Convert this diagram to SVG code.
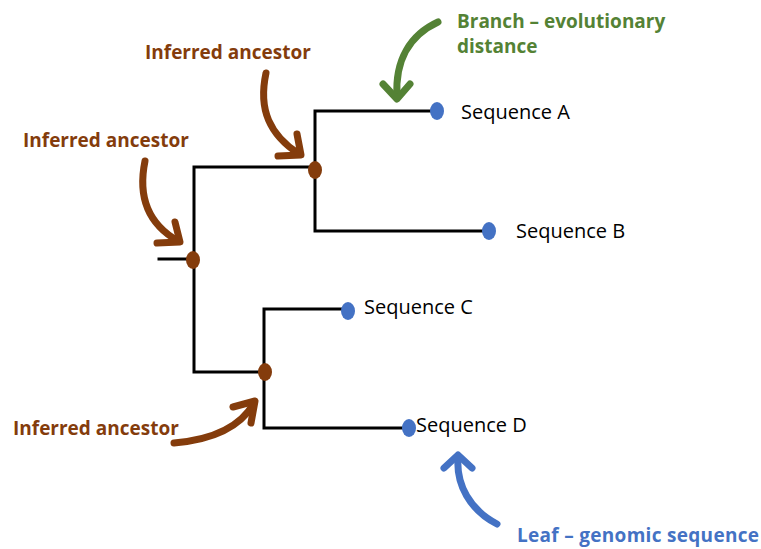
<svg xmlns="http://www.w3.org/2000/svg" width="761" height="549" viewBox="0 0 761 549">
  <defs>
    <style>
      .branch { fill: none; stroke: #000; stroke-width: 3; stroke-linecap: square; stroke-linejoin: miter; }
      .anc { fill: #843C0C; }
      .leaf { fill: #4472C4; }
      .seq { font-family: "Open Sans", "Liberation Sans", sans-serif; font-size: 20px; fill: #000; }
      .note { font-family: "Open Sans", "Liberation Sans", sans-serif; font-size: 19px; font-weight: bold; }
      .brown { fill: #843C0C; }
      .green { fill: #548235; }
      .blue { fill: #4472C4; }
      .arrow { fill: none; stroke-width: 7; stroke-linecap: round; stroke-linejoin: round; }
    </style>
  </defs>
  <rect width="761" height="549" fill="#fff"/>

  <!-- tree branches -->
  <g id="connectors">
    <path class="branch" d="M159 259 H193"/>
    <path class="branch" d="M315 111 H437 M315 111 V231 H489"/>
    <path class="branch" d="M194 167 H315 M194 167 V372 H264"/>
    <path class="branch" d="M264 309 H348 M264 309 V428 H409"/>
  </g>

  <!-- inferred ancestors -->
  <g id="ancestor-root"><ellipse class="anc" cx="193" cy="260" rx="7" ry="9"/></g>
  <g id="ancestor-ab"><ellipse class="anc" cx="315" cy="170" rx="7" ry="9"/></g>
  <g id="ancestor-cd"><ellipse class="anc" cx="265" cy="372" rx="7" ry="9"/></g>

  <!-- leaves -->
  <g id="leaf-a">
    <ellipse class="leaf" cx="437" cy="111" rx="7" ry="9"/>
    <text class="seq" x="461" y="119">Sequence A</text>
  </g>
  <g id="leaf-b">
    <ellipse class="leaf" cx="489" cy="231" rx="7" ry="9"/>
    <text class="seq" x="516" y="238">Sequence B</text>
  </g>
  <g id="leaf-c">
    <ellipse class="leaf" cx="348" cy="311" rx="7" ry="9"/>
    <text class="seq" x="364" y="314">Sequence C</text>
  </g>
  <g id="leaf-d">
    <ellipse class="leaf" cx="409" cy="428" rx="7" ry="9"/>
    <text class="seq" x="416" y="432">Sequence D</text>
  </g>

  <!-- annotations -->
  <g id="note-ancestor-top">
    <text class="note brown" x="145" y="59">Inferred ancestor</text>
    <path class="arrow" stroke="#843C0C" d="M266 73 C258 110 270 135 299 154"/>
    <path class="arrow" stroke="#843C0C" d="M278 156 L301 155 L297 134"/>
  </g>
  <g id="note-ancestor-left">
    <text class="note brown" x="23" y="147">Inferred ancestor</text>
    <path class="arrow" stroke="#843C0C" d="M145 161 C137 200 150 225 178 241"/>
    <path class="arrow" stroke="#843C0C" d="M157 243 L180 242 L175 222"/>
  </g>
  <g id="note-ancestor-bottom">
    <text class="note brown" x="13" y="435">Inferred ancestor</text>
    <path class="arrow" stroke="#843C0C" d="M174 443 C210 440 240 428 254 403"/>
    <path class="arrow" stroke="#843C0C" d="M233 407 L255 401 L251 423"/>
  </g>
  <g id="note-branch">
    <text class="note green" x="457" y="28">Branch – evolutionary</text>
    <text class="note green" x="457" y="53">distance</text>
    <path class="arrow" stroke="#548235" d="M438 22 C410 35 395 60 397 96"/>
    <path class="arrow" stroke="#548235" d="M383 84 L397 99 L410 84"/>
  </g>
  <g id="note-leaf">
    <text class="note blue" x="517" y="542" textLength="242">Leaf – genomic sequence</text>
    <path class="arrow" stroke="#4472C4" d="M497 524 C470 510 456 485 458 457"/>
    <path class="arrow" stroke="#4472C4" d="M444 468 L458 455 L472 468"/>
  </g>
</svg>
